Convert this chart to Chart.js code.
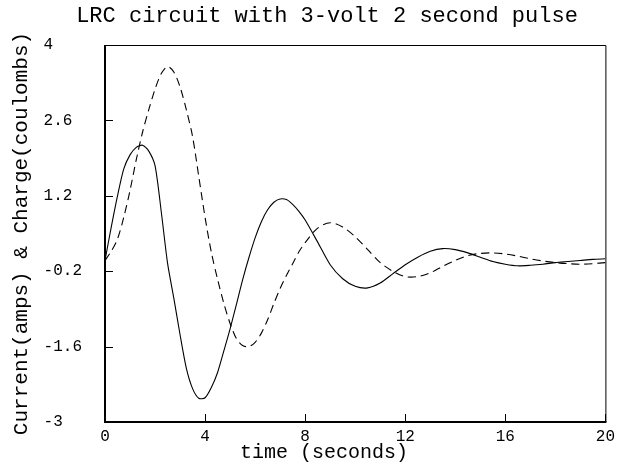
<!DOCTYPE html>
<html>
<head>
<meta charset="utf-8">
<script src="https://cdn.jsdelivr.net/npm/chart.js@4.4.1/dist/chart.umd.min.js"></script>
<style>
  html, body { margin: 0; padding: 0; background: #fff; }
  #wrap { width: 620px; height: 466px; }
</style>
</head>
<body>
<div id="wrap"><canvas id="lrcChart" width="620" height="466"></canvas></div>
<script>
// time (seconds)
const times = [
  0, 0.25, 0.5, 0.75, 1, 1.25, 1.5, 1.75, 2, 2.25, 2.5, 2.75, 3, 3.25, 3.5, 3.75,
  4, 4.25, 4.5, 4.75, 5, 5.25, 5.5, 5.75, 6, 6.25, 6.5, 6.75, 7, 7.25, 7.5, 7.75,
  8, 8.5, 9, 9.5, 10, 10.5, 11, 11.5, 12, 12.5, 13, 13.5, 14, 14.5, 15, 15.5,
  16, 16.5, 17, 17.5, 18, 18.5, 19, 19.5, 20
];
// current (amps) - solid
const current = [
  0, 0.62, 1.2, 1.7, 1.96, 2.1, 2.14, 2.03, 1.76, 0.9, -0.05, -0.7, -1.38, -2.0, -2.38, -2.56,
  -2.55, -2.36, -2.08, -1.68, -1.27, -0.82, -0.36, 0.05, 0.42, 0.72, 0.94, 1.08, 1.14, 1.13, 1.04, 0.91,
  0.75, 0.34, -0.08, -0.34, -0.48, -0.51, -0.42, -0.25, -0.08, 0.06, 0.17, 0.22, 0.2, 0.14, 0.06, -0.02,
  -0.07, -0.1, -0.09, -0.07, -0.04, -0.02, 0, 0.02, 0.03
];
// charge (coulombs) - dashed
const charge = [
  0, 0.17, 0.4, 0.8, 1.3, 1.87, 2.38, 2.8, 3.18, 3.47, 3.6, 3.5, 3.22, 2.8, 2.3, 1.55,
  0.8, 0.15, -0.35, -0.8, -1.17, -1.45, -1.58, -1.6, -1.52, -1.35, -1.1, -0.8, -0.52, -0.28, -0.06, 0.16,
  0.33, 0.6, 0.7, 0.62, 0.44, 0.2, -0.04, -0.2, -0.3, -0.3, -0.23, -0.11, 0, 0.09, 0.13, 0.14,
  0.12, 0.08, 0.03, -0.01, -0.04, -0.06, -0.07, -0.06, -0.04
];
const yTicks = [-3, -1.6, -0.2, 1.2, 2.6, 4];
const xTicks = [0, 4, 8, 12, 16, 20];

const titleText = 'LRC circuit with 3-volt 2 second pulse';
const xTitle = 'time (seconds)';
const monoFont = '"Liberation Mono", "DejaVu Sans Mono", monospace';

const pts = (ys) => times.map((t, i) => ({ x: t, y: ys[i] }));

// frame, inward tick marks, top title and x axis title
const framePlugin = {
  id: 'frame',
  afterDraw(chart) {
    const { ctx, chartArea: a, scales } = chart;
    ctx.save();
    ctx.strokeStyle = '#000';
    ctx.lineWidth = 1;
    ctx.beginPath();
    ctx.moveTo(a.left, a.top + 0.5);
    ctx.lineTo(a.right + 0.5, a.top + 0.5);
    ctx.lineTo(a.right + 0.5, a.bottom);
    ctx.stroke();
    ctx.lineWidth = 2;
    ctx.beginPath();
    ctx.moveTo(a.left, a.top);
    ctx.lineTo(a.left, a.bottom);
    ctx.lineTo(a.right + 1, a.bottom);
    ctx.stroke();
    ctx.lineWidth = 1;
    ctx.beginPath();
    scales.x.ticks.forEach((t) => {
      const px = Math.round(scales.x.getPixelForValue(t.value)) + 0.5;
      ctx.moveTo(px, a.bottom);
      ctx.lineTo(px, a.bottom - 8);
    });
    scales.y.ticks.forEach((t) => {
      const py = Math.round(scales.y.getPixelForValue(t.value)) + 0.5;
      ctx.moveTo(a.left, py);
      ctx.lineTo(a.left + 8, py);
    });
    ctx.stroke();
    ctx.fillStyle = '#000';
    ctx.textAlign = 'center';
    ctx.textBaseline = 'middle';
    ctx.font = '22px ' + monoFont;
    ctx.fillText(titleText, 327, 16);
    ctx.font = '20px ' + monoFont;
    ctx.fillText(xTitle, 324, 453);
    ctx.restore();
  }
};

new Chart(document.getElementById('lrcChart'), {
  type: 'line',
  data: {
    datasets: [{
      label: 'Current',
      data: pts(current),
      borderColor: '#000',
      borderWidth: 1.1,
      pointRadius: 0,
      tension: 0.25
    }, {
      label: 'Charge',
      data: pts(charge),
      borderColor: '#000',
      borderWidth: 1.1,
      borderDash: [8, 5],
      pointRadius: 0,
      tension: 0.3
    }]
  },
  options: {
    responsive: false,
    animation: false,
    layout: { padding: { top: 45, right: 13, left: 0, bottom: 0 } },
    plugins: { legend: { display: false }, tooltip: { enabled: false } },
    scales: {
      x: {
        type: 'linear',
        min: 0,
        max: 20,
        afterBuildTicks: (s) => { s.ticks = xTicks.map((v) => ({ value: v })); },
        afterFit: (s) => { s.height = 44; },
        grid: { display: false, drawTicks: false },
        border: { display: false },
        ticks: { color: '#000', padding: 5, font: { family: monoFont, size: 16 } }
      },
      y: {
        min: -3,
        max: 4,
        afterBuildTicks: (s) => { s.ticks = yTicks.map((v) => ({ value: v })); },
        afterFit: (s) => { s.width = 105; },
        grid: { display: false, drawTicks: false },
        border: { display: false },
        ticks: {
          color: '#000',
          padding: 23,
          font: { family: monoFont, size: 16 },
          callback: (v) => String(v).padEnd(4, ' ')
        },
        title: {
          display: true,
          text: 'Current(amps) & Charge(coulombs)',
          color: '#000',
          font: { family: monoFont, size: 21 },
          padding: { top: 9, bottom: 0 }
        }
      }
    }
  },
  plugins: [framePlugin]
});
</script>
</body>
</html>
